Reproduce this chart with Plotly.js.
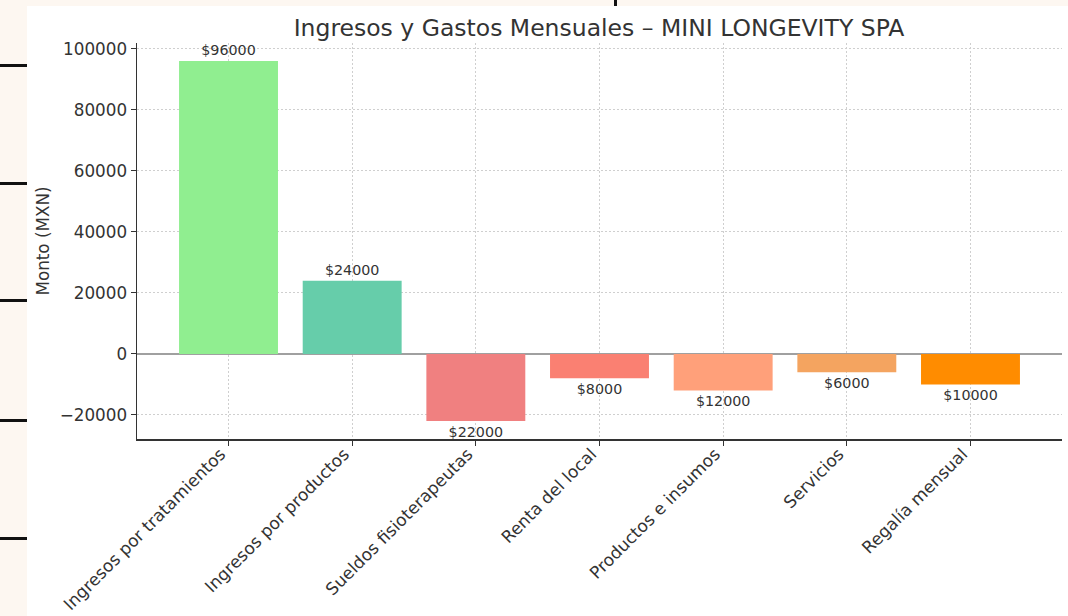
<!DOCTYPE html>
<html>
<head>
<meta charset="utf-8">
<script src="https://cdn.plot.ly/plotly-3.0.1.min.js"></script>
<style>
html,body{margin:0;padding:0;width:1068px;height:616px;overflow:hidden;background:#fdf7f1;}
#chart{position:absolute;left:27px;top:6px;width:1041px;height:610px;background:#fff;}
.dash{position:absolute;left:0;width:27px;height:3px;background:#111;}
.vmark{position:absolute;left:614px;top:0;width:3px;height:6px;background:#111;}
</style>
</head>
<body>
<div class="dash" style="top:64px"></div>
<div class="dash" style="top:182px"></div>
<div class="dash" style="top:299px"></div>
<div class="dash" style="top:419px"></div>
<div class="dash" style="top:537px"></div>
<div class="vmark"></div>
<div id="chart"></div>
<script>
const categories = ["Ingresos por tratamientos","Ingresos por productos","Sueldos fisioterapeutas","Renta del local","Productos e insumos","Servicios","Regalía mensual"];
const values = [96000, 24000, -22000, -8000, -12000, -6000, -10000];
const colors = ["#90EE90","#66CDAA","#F08080","#FA8072","#FFA07A","#F4A460","#FF8C00"];
const labels = values.map(v => "$" + Math.abs(v));
const yTicks = [-20000, 0, 20000, 40000, 60000, 80000, 100000];

const font = "DejaVu Sans, sans-serif";
const trace = {
  type: "bar",
  x: categories,
  y: values,
  marker: {color: colors},
  width: 0.8,
  text: labels,
  textposition: "outside",
  cliponaxis: false,
  textfont: {family: font, size: 14.3, color: "#333"},
  hoverinfo: "none"
};
const layout = {
  width: 1041, height: 610,
  margin: {l: 110, r: 6, t: 37, b: 177},
  paper_bgcolor: "#fff",
  plot_bgcolor: "#fff",
  showlegend: false,
  font: {family: font, color: "#333"},
  title: {text: "Ingresos y Gastos Mensuales – MINI LONGEVITY SPA", font: {family: font, size: 23.5, color: "#333"}, x: 0.5495, xanchor: "center", y: 0.965, yanchor: "middle", yref: "container"},
  xaxis: {
    range: [-0.74, 6.74],
    tickangle: -45,
    tickfont: {family: font, size: 17, color: "#333"},
    ticks: "outside", ticklen: 5, tickcolor: "#333",
    ticklabelstandoff: -8, ticklabelshift: -8,
    showline: true, linecolor: "#333", linewidth: 1.5,
    showgrid: true, gridcolor: "#cfcfcf", griddash: "2px,2px", gridwidth: 1,
    zeroline: false
  },
  yaxis: {
    range: [-27900, 101900],
    tickvals: yTicks,
    tickformat: "d",
    tickfont: {family: font, size: 16.8, color: "#333"},
    ticks: "outside", ticklen: 5, tickcolor: "#333",
    showline: true, linecolor: "#333", linewidth: 1.5,
    showgrid: true, gridcolor: "#cfcfcf", griddash: "2px,2px", gridwidth: 1,
    zeroline: true, zerolinecolor: "#a0a0a0", zerolinewidth: 1.5,
    title: {text: "Monto (MXN)", font: {family: font, size: 16.8, color: "#333"}, standoff: 6}
  },
  bargap: 0.2
};
Plotly.newPlot("chart", [trace], layout, {staticPlot: true, displayModeBar: false});
</script>
</body>
</html>
